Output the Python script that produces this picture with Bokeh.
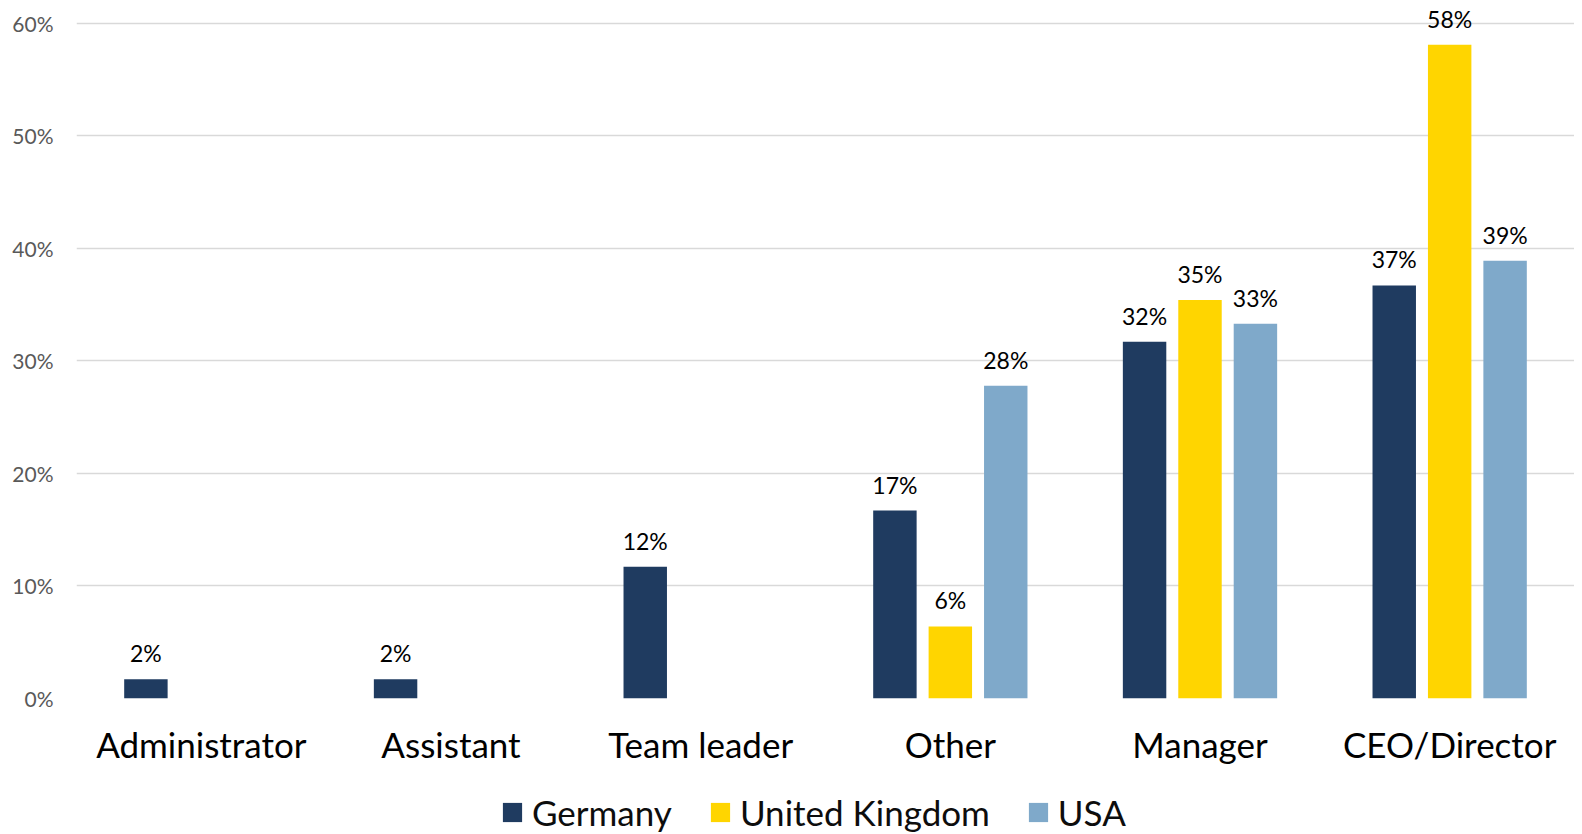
from bokeh.plotting import figure
from bokeh.models import (FactorRange, ColumnDataSource, NumeralTickFormatter,
                          FixedTicker, Legend, LegendItem)
from bokeh.layouts import column
from bokeh.transform import dodge
from bokeh.core.properties import value
from bokeh.embed import file_html
from bokeh.resources import INLINE

categories = ["Administrator", "Assistant", "Team leader", "Other", "Manager", "CEO/Director"]
series_names = ["Germany", "United Kingdom", "USA"]
germany = [0.017, 0.017, 0.117, 0.167, 0.317, 0.367]
uk = [None, None, None, 0.064, 0.354, 0.581]
usa = [None, None, None, 0.278, 0.333, 0.389]
y_ticks = [0.0, 0.1, 0.2, 0.3, 0.4, 0.5, 0.6]

colors = ["#1F3B60", "#FFD500", "#7FA9CA"]
offsets = [-0.222, 0.0, 0.222]
FONT = "Lato"

p = figure(x_range=FactorRange(factors=categories), y_range=(0, 0.6131),
           frame_width=1498, frame_height=690, output_backend="svg", toolbar_location=None,
           min_border_left=76, min_border_right=0, min_border_top=8, min_border_bottom=60)
p.outline_line_color = None
p.xgrid.grid_line_color = None
p.ygrid.grid_line_color = "#D9D9D9"
p.ygrid.grid_line_width = 1.3
p.ygrid.ticker = FixedTicker(ticks=y_ticks)

p.yaxis.ticker = FixedTicker(ticks=y_ticks)
p.yaxis.formatter = NumeralTickFormatter(format="0%")
p.yaxis.axis_line_color = None
p.yaxis.major_tick_line_color = None
p.yaxis.minor_tick_line_color = None
p.yaxis.major_label_text_font = FONT
p.yaxis.major_label_text_font_size = "21px"
p.yaxis.major_label_text_color = "#595959"
p.yaxis.major_label_standoff = 17

p.xaxis.axis_line_color = None
p.xaxis.major_tick_line_color = None
p.xaxis.major_tick_out = 0
p.xaxis.major_label_text_font = FONT
p.xaxis.major_label_text_font_size = "35px"
p.xaxis.major_label_text_color = "#000000"
p.xaxis.major_label_standoff = 24

for name, vals, col, off in zip(series_names, [germany, uk, usa], colors, offsets):
    xs = [c for c, v in zip(categories, vals) if v is not None]
    ys = [v for v in vals if v is not None]
    labels = [f"{v*100:.0f}%" for v in ys]
    src = ColumnDataSource(dict(x=xs, y=ys, label=labels))
    p.vbar(x=dodge("x", off, range=p.x_range), top="y", width=0.174, source=src,
           fill_color=col, line_color=None)
    p.text(x=dodge("x", off, range=p.x_range), y="y", text="label", source=src,
           text_font=value(FONT), text_font_size="23px", text_color="#000000",
           text_align="center", text_baseline="alphabetic", y_offset=-26)

# legend strip below the chart (zero-height swatch renderers only feed the legend)
lg = figure(frame_width=1574, frame_height=66, x_range=(0, 1), y_range=(0, 1),
            x_axis_type=None, y_axis_type=None, output_backend="svg",
            toolbar_location=None, min_border=0)
lg.outline_line_color = None
lg.grid.visible = False
items = []
for name, col in zip(series_names, colors):
    r = lg.vbar(x=[0.5], top=[0.0], width=0.01, fill_color=col, line_color=None)
    items.append(LegendItem(label=name, renderers=[r]))
legend = Legend(items=items, orientation="horizontal", location=(500, 0),
                glyph_width=24, glyph_height=24, label_standoff=8, spacing=36,
                label_text_font=FONT, label_text_font_size="35px",
                label_text_color="#0D0D0D",
                border_line_color=None, background_fill_alpha=0, padding=0, margin=0)
lg.add_layout(legend, "center")

layout = column(p, lg, spacing=0)
open("out.html", "w").write(file_html(layout, INLINE))
